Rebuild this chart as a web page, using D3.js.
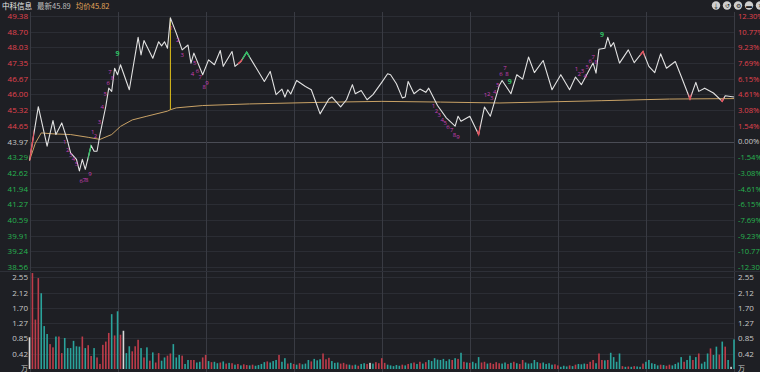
<!DOCTYPE html>
<html>
<head>
<meta charset="utf-8">
<script src="https://cdn.jsdelivr.net/npm/d3@7"></script>
<style>
  body { margin: 0; background: #1e1f24; }
  svg { display: block; font-family: "Noto Sans CJK SC", "Noto Sans", sans-serif; }
</style>
</head>
<body>
<svg id="chart" width="760" height="372"></svg>
<script>
// ---- data ----
var stockName = '中科信息';
var lastPrice = 45.89, avgPrice = 45.82, prevClose = 43.97;

var priceTicks = [49.38, 48.70, 48.03, 47.35, 46.67, 46.00, 45.32, 44.65, 43.97,
                  43.29, 42.62, 41.94, 41.27, 40.59, 39.91, 39.24, 38.56];
var pctTicks = ['12.30%', '10.77%', '9.23%', '7.69%', '6.15%', '4.61%', '3.08%', '1.54%', '0.00%',
                '-1.54%', '-3.08%', '-4.61%', '-6.15%', '-7.69%', '-9.23%', '-10.77%', '-12.30%'];
var volTicks = [2.55, 2.12, 1.70, 1.27, 0.85, 0.42];
var timeTicks = [0, 30, 60, 90, 120, 150, 180, 210, 240];

// [minute, price] turning points of the minute line
var priceLine = [[0,43.15],[3,45.47],[6,43.77],[8,44.87],[9,44.27],[11,44.77],[13,43.98],[14,43.48],
  [16,43.20],[17,42.70],[18,43.20],[19,42.77],[21,43.80],[22,43.55],[23,43.55],[24,44.27],[26,45.49],
  [27,46.27],[28,46.13],[29,47.13],[30,46.85],[31,47.28],[34,46.20],[37,48.46],[38,47.70],[39,48.32],
  [42,47.56],[44,48.27],[45,48.09],[46,48.27],[47,47.99],[48,49.30],[50,48.64],[52,47.92],[54,48.13],
  [55,47.35],[56,47.78],[59,46.85],[61,47.49],[63,47.28],[65,47.89],[66,47.21],[69,47.85],[70,47.21],
  [72,47.42],[74,47.82],[80,46.56],[82,46.99],[84,45.99],[86,46.23],[87,45.89],[88,46.20],[89,46.02],
  [91,46.60],[94,46.34],[96,46.20],[99,45.16],[102,45.80],[103,45.89],[106,45.46],[108,45.77],
  [110,46.42],[111,46.03],[113,46.17],[115,45.77],[117,45.99],[120,46.52],[122,46.89],[123,46.85],
  [125,46.46],[127,45.85],[128,45.89],[129,46.56],[131,46.03],[133,46.23],[135,46.09],[136,46.27],
  [139,45.52],[142,44.99],[145,44.63],[146,45.06],[147,44.84],[150,45.06],[153,44.27],[155,45.46],
  [157,45.06],[160,46.37],[161,46.60],[164,46.03],[166,46.85],[168,46.66],[170,47.61],[172,46.94],
  [175,47.46],[178,46.20],[181,46.85],[184,46.20],[186,46.75],[188,46.42],[191,47.13],[192,47.35],
  [193,46.92],[194,47.95],[196,47.99],[197,48.46],[198,48.06],[199,48.23],[201,47.35],[204,47.92],
  [206,47.37],[209,47.85],[211,47.21],[213,46.94],[215,47.75],[217,47.13],[220,47.42],[222,46.78],
  [225,45.80],[227,46.52],[228,46.13],[230,46.27],[233,46.06],[236,45.70],[237,45.94],[240,45.89]];

var avgLine = [[0,43.15],[2,43.90],[4,44.34],[8,44.30],[14,44.27],[20,44.15],[24,44.06],[28,44.27],
  [31,44.62],[35,44.90],[40,45.06],[47,45.28],[48,45.34],[50,45.42],[59,45.52],[75,45.59],[100,45.66],
  [120,45.70],[140,45.67],[160,45.63],[195,45.73],[218,45.80],[240,45.82]];

// volume per minute (万手), 241 bars
var volumes = [
  0.88,2.66,1.37,2.52,2.10,1.19,0.97,0.69,0.60,0.90,
  0.90,0.44,0.86,0.58,0.58,0.78,0.63,0.62,0.90,0.58,
  0.66,0.36,0.58,0.32,0.14,0.67,0.76,1.00,1.52,0.93,
  1.60,0.95,1.06,0.44,0.63,0.49,0.63,0.81,0.58,0.32,
  0.60,0.23,0.46,0.18,0.44,0.23,0.32,0.37,0.43,0.69,
  0.32,0.39,0.37,0.14,0.25,0.25,0.25,0.18,0.20,0.32,
  0.39,0.22,0.19,0.20,0.16,0.18,0.21,0.15,0.17,0.16,
  0.12,0.14,0.10,0.13,0.11,0.10,0.12,0.09,0.11,0.14,
  0.19,0.21,0.18,0.22,0.25,0.39,0.20,0.30,0.15,0.17,
  0.14,0.12,0.16,0.13,0.15,0.25,0.21,0.28,0.24,0.27,
  0.43,0.27,0.31,0.22,0.17,0.18,0.15,0.17,0.13,0.12,
  0.10,0.12,0.09,0.14,0.16,0.14,0.17,0.15,0.19,0.16,
  0.30,0.17,0.12,0.10,0.08,0.11,0.09,0.12,0.10,0.14,
  0.16,0.18,0.14,0.20,0.15,0.19,0.25,0.22,0.30,0.26,
  0.25,0.28,0.22,0.27,0.25,0.30,0.28,0.45,0.20,0.18,
  0.17,0.20,0.16,0.33,0.18,0.20,0.15,0.17,0.14,0.19,
  0.16,0.15,0.18,0.14,0.17,0.20,0.16,0.14,0.25,0.18,
  0.15,0.16,0.25,0.19,0.16,0.18,0.14,0.16,0.12,0.13,
  0.10,0.06,0.09,0.07,0.10,0.08,0.12,0.14,0.13,0.15,
  0.14,0.20,0.25,0.16,0.43,0.25,0.24,0.25,0.45,0.33,
  0.20,0.43,0.08,0.06,0.07,0.06,0.08,0.07,0.06,0.15,
  0.20,0.25,0.16,0.14,0.10,0.12,0.11,0.09,0.12,0.10,
  0.14,0.18,0.33,0.20,0.25,0.37,0.25,0.33,0.43,0.15,
  0.20,0.43,0.57,0.39,0.62,0.40,0.76,0.62,0.25,0.06,0.82];
// r = up minute, t = down minute, n = flat (one letter per bar)
var volDirs =
  'nrrrtttrrt' + 'rrttttttrt' + 'rrtrrrrrtr' + 'trnttrrrtr' + 'trtrrttrrt' + 'ttrttrrttr' +
  'rtrttrtrtr' + 'trtrrtrttt' + 'trtttrttrt' + 'rtrtttrttt' +
  'rrrtttrrrt' + 'rtrttrntrr' + 'rrtttttrtr' + 'trtrtrtttt' +
  'ttttrtrtrt' + 'rtttrrtrrr' + 'rttrtrtrrt' + 'ttttrttttr' +
  'rtttrtrttt' + 'rrrtrrtrtt' + 'ttrtrtrttr' + 'tttttrtrrt' +
  'tttrttrtrt' + 'ttrttrtrtnt';

// TD-style count labels: [minute, price, text, kind]
var tdMarks = [
  [12,43.95,'1','s'],[13,43.62,'2','s'],[14,43.38,'3','s'],[15,43.22,'4','s'],[16,42.98,'5','s'],
  [17.6,42.25,'6','s'],[18.6,42.30,'7','s'],[19.5,42.33,'8','s'],[20.6,42.55,'9','s'],
  [21.5,44.40,'1','s'],[22.5,44.20,'2','s'],[23.8,44.80,'3','s'],[24.8,45.45,'4','s'],[25.8,46.00,'5','s'],
  [26.8,46.50,'6','s'],[27.4,46.96,'7','s'],[28.3,46.70,'8','s'],[30,47.75,'9','g'],
  [48.3,48.85,'1','s'],[50.5,48.35,'2','s'],[52,47.70,'3','s'],[55.5,46.90,'4','s'],[56.3,47.36,'5','s'],
  [57.2,47.00,'6','s'],[58.2,46.75,'7','s'],[59.5,46.33,'8','s'],[60.5,46.50,'9','s'],
  [137.6,45.50,'1','s'],[138.6,45.30,'2','s'],[139.6,45.10,'3','s'],[140.6,44.90,'4','s'],[141.6,44.75,'5','s'],
  [142.6,44.60,'6','s'],[143.8,44.45,'7','s'],[144.8,44.25,'8','s'],[146,44.18,'9','s'],
  [155.3,45.98,'1','s'],[156.4,46.00,'2','s'],[157.5,45.85,'3','s'],[158.5,46.10,'4','s'],[159.5,46.40,'5','s'],
  [160.6,46.90,'6','s'],[162,47.15,'7','s'],[162.7,46.90,'8','s'],[163.6,46.53,'9','g'],
  [186.3,47.10,'1','s'],[187.3,46.90,'2','s'],[188.4,47.00,'3','s'],[189.3,46.80,'4','s'],[190,47.20,'5','s'],
  [191,47.45,'6','s'],[192,47.60,'7','s'],[193,47.40,'8','s'],[195,48.56,'9','g']];

// stretches of the price line drawn in colour: [from minute, to minute, kind]
var lineHighlights = [[0,1.5,'r'],[20,21,'g'],[71,72.5,'r'],[72.5,75,'g'],[152.5,153.5,'r'],
  [208,209.5,'r'],[224.5,225.5,'r'],[235.5,236.5,'r']];

var highMinute = 48, highPrice = 49.30, avgAtHigh = 45.34;

// ---- drawing ----
var RED = '#e2434f', GREEN = '#27b350', TEAL = '#2aa39b', GRAY = '#c8c8c8';
var svg = d3.select('#chart');

var x = d3.scaleLinear().domain([0, 240]).range([29.5, 734]);
var y = d3.scaleLinear().domain([38.56, 49.38]).range([267, 16]);
var yv = d3.scaleLinear().domain([0, 2.55]).range([369, 277]);

// grid
svg.append('g').selectAll('line').data(priceTicks).join('line')
  .attr('x1', x(0)).attr('x2', x(240))
  .attr('y1', function (d) { return Math.round(y(d)) + 0.5; })
  .attr('y2', function (d) { return Math.round(y(d)) + 0.5; })
  .attr('stroke', function (d) { return d === prevClose ? '#4a4c55' : '#2b2d34'; });
svg.append('g').selectAll('line').data(volTicks).join('line')
  .attr('x1', x(0)).attr('x2', x(240))
  .attr('y1', function (d) { return Math.round(yv(d)) + 0.5; })
  .attr('y2', function (d) { return Math.round(yv(d)) + 0.5; })
  .attr('stroke', '#2b2d34');
svg.append('g').selectAll('line').data(timeTicks).join('line')
  .attr('x1', function (d) { return Math.round(x(d)) + 0.5; })
  .attr('x2', function (d) { return Math.round(x(d)) + 0.5; })
  .attr('y1', 12).attr('y2', 372)
  .attr('stroke', '#393b43');
// panel separator
svg.append('line').attr('x1', 0).attr('x2', 760).attr('y1', 271.5).attr('y2', 271.5).attr('stroke', '#2e3038');

// price axis left
var leftAxis = d3.axisLeft(y).tickValues(priceTicks).tickSize(0).tickPadding(0)
  .tickFormat(d3.format('.2f'));
var gl = svg.append('g').attr('transform', 'translate(28,0)').call(leftAxis);
gl.select('.domain').remove();
gl.selectAll('text').attr('font-size', 8).attr('font-family', '"Open Sans", sans-serif')
  .attr('fill', function (d) { return d > prevClose ? RED : d < prevClose ? GREEN : GRAY; });

// percent axis right (clipped by the window edge, as in the app)
var yPct = d3.scalePoint().domain(pctTicks).range([y(49.38), y(38.56)]);
var rightAxis = d3.axisRight(yPct).tickSize(0).tickPadding(0);
var gr = svg.append('g').attr('transform', 'translate(738,0)').call(rightAxis);
gr.select('.domain').remove();
gr.selectAll('text').attr('font-size', 7.6).attr('font-family', '"Open Sans", sans-serif')
  .attr('fill', function (d) { return d.charAt(0) === '-' ? GREEN : d === '0.00%' ? GRAY : RED; });

// volume axes
[[28, 'end'], [738, 'start']].forEach(function (s) {
  var g = svg.append('g');
  g.selectAll('text').data(volTicks).join('text')
    .attr('x', s[0]).attr('y', function (d) { return yv(d) + 3; })
    .attr('text-anchor', s[1]).attr('font-size', 8).attr('font-family', '"Open Sans", sans-serif')
    .attr('fill', GRAY).text(d3.format('.2f'));
  g.append('text').attr('x', s[0]).attr('y', yv(0) + 2)
    .attr('text-anchor', s[1]).attr('font-size', 7).attr('fill', GRAY).text('万');
});

// volume bars
svg.append('g').selectAll('rect').data(volumes).join('rect')
  .attr('x', function (d, i) { return x(i) - 0.8; })
  .attr('width', 1.6)
  .attr('y', function (d) { return yv(d); })
  .attr('height', function (d) { return yv(0) - yv(d); })
  .attr('fill', function (d, i) {
    var c = volDirs.charAt(i);
    return c === 'r' ? '#bd3c4a' : c === 't' ? TEAL : '#d8d8d8';
  });

// average line
var line = d3.line().x(function (d) { return x(d[0]); }).y(function (d) { return y(d[1]); });
svg.append('path').datum(avgLine).attr('d', line)
  .attr('fill', 'none').attr('stroke', '#c9a266').attr('stroke-width', 1);

// high marker
svg.append('line')
  .attr('x1', x(highMinute)).attr('x2', x(highMinute))
  .attr('y1', y(highPrice)).attr('y2', y(avgAtHigh))
  .attr('stroke', '#e2c21a').attr('stroke-width', 1);

// price line
svg.append('path').datum(priceLine).attr('d', line)
  .attr('fill', 'none').attr('stroke', '#e2e2e2').attr('stroke-width', 1.1)
  .attr('stroke-linejoin', 'round');

// coloured stretches of price line
var defs = svg.append('defs');
lineHighlights.forEach(function (h, i) {
  defs.append('clipPath').attr('id', 'hl' + i).append('rect')
    .attr('x', x(h[0])).attr('width', x(h[1]) - x(h[0]))
    .attr('y', 0).attr('height', 272);
  svg.append('path').datum(priceLine).attr('d', line)
    .attr('clip-path', 'url(#hl' + i + ')')
    .attr('fill', 'none').attr('stroke', h[2] === 'r' ? '#e5505c' : '#2fbf63').attr('stroke-width', 1.4);
});

// count labels
svg.append('g').selectAll('text').data(tdMarks).join('text')
  .attr('x', function (d) { return x(d[0]); })
  .attr('y', function (d) { return y(d[1]) + 2; })
  .attr('text-anchor', 'middle')
  .attr('font-size', function (d) { return d[3] === 'g' ? 7 : 6; })
  .attr('font-family', '"Open Sans", sans-serif')
  .attr('font-weight', function (d) { return d[3] === 'g' ? 'bold' : 'normal'; })
  .attr('fill', function (d) { return d[3] === 'g' ? '#2fbf63' : '#c93fb8'; })
  .text(function (d) { return d[2]; });

// header
var head = svg.append('text').attr('x', 2).attr('y', 8.5).attr('font-size', 7.5);
head.append('tspan').attr('fill', '#e8e8e8').text(stockName);
head.append('tspan').attr('dx', 5).attr('fill', '#bdbdbd').text('最新' + lastPrice.toFixed(2));
head.append('tspan').attr('dx', 5).attr('fill', '#e3a65a').text('均价' + avgPrice.toFixed(2));

// toolbar icons top right
var icons = ['↓', '↺', '⚙', '▬', '✕'];
var ig = svg.append('g');
icons.forEach(function (c, i) {
  var cx = 716 + i * 11;
  ig.append('circle').attr('cx', cx).attr('cy', 5.5).attr('r', 4.2).attr('fill', '#cfcfcf');
  ig.append('text').attr('x', cx).attr('y', 8).attr('text-anchor', 'middle')
    .attr('font-size', 6).attr('fill', '#1e1f24').text(c);
});
</script>
</body>
</html>
